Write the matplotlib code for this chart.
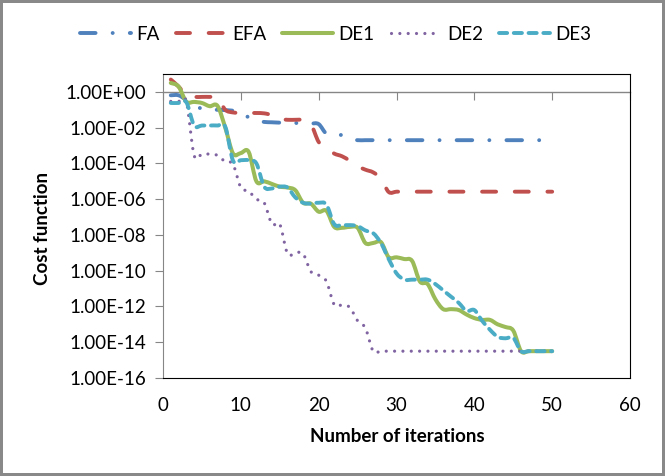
import numpy as np
import matplotlib
matplotlib.use("Agg")
import matplotlib.pyplot as plt
from matplotlib.path import Path
from matplotlib.patches import PathPatch
from matplotlib.lines import Line2D

plt.rcParams['font.family'] = ['Lato', 'DejaVu Sans']

# iteration number and log10 of the cost
iterations = np.arange(1, 51)

fa_log = [-0.19, -0.19, -0.45, -0.7, -0.95, -1.0, -1.0, -1.02, -1.05, -1.1,
          -1.43, -1.6, -1.68, -1.7, -1.72, -1.73, -1.74, -1.75, -1.77, -1.8,
          -2.35, -2.4, -2.42, -2.62, -2.7, -2.7, -2.7, -2.7, -2.7, -2.7,
          -2.7, -2.7, -2.7, -2.7, -2.7, -2.7, -2.7, -2.7, -2.7, -2.7,
          -2.7, -2.7, -2.7, -2.7, -2.7, -2.7, -2.7, -2.7, -2.7, -2.7]

efa_log = [0.69, 0.3, -0.2, -0.28, -0.28, -0.28, -0.32, -1.0, -1.15, -1.18,
           -1.18, -1.18, -1.2, -1.3, -1.5, -1.56, -1.56, -1.57, -1.8, -2.8,
           -3.15, -3.45, -3.6, -3.85, -4.15, -4.35, -4.5, -4.85, -5.6, -5.58,
           -5.58, -5.58, -5.58, -5.58, -5.58, -5.58, -5.58, -5.58, -5.58, -5.58,
           -5.58, -5.58, -5.58, -5.58, -5.58, -5.58, -5.58, -5.58, -5.58, -5.58]

de1_log = [0.5, 0.3, -0.55, -0.56, -0.62, -0.8, -0.78, -2.0, -3.45, -3.42,
           -3.35, -5.0, -5.0, -5.15, -5.3, -5.35, -5.5, -6.2, -6.25, -6.7,
           -6.65, -7.55, -7.6, -7.55, -7.6, -8.45, -8.45, -8.4, -9.25, -9.25,
           -9.35, -9.45, -10.6, -10.75, -11.6, -12.15, -12.15, -12.2, -12.45, -12.65,
           -12.75, -12.75, -13.0, -13.15, -13.35, -14.5, -14.5, -14.5, -14.5, -14.5]

de2_log = [-0.53, -0.53, -0.55, -3.55, -3.48, -3.48, -3.55, -3.9, -4.05, -5.35,
           -5.55, -6.0, -6.2, -7.4, -7.4, -9.05, -9.0, -9.05, -10.05, -10.25,
           -10.6, -11.9, -11.92, -12.05, -12.8, -13.2, -14.5, -14.5, -14.5, -14.5,
           -14.5, -14.5, -14.5, -14.5, -14.5, -14.5, -14.5, -14.5, -14.5, -14.5,
           -14.5, -14.5, -14.5, -14.5, -14.5, -14.5, -14.5, -14.5, -14.5, -14.5]

de3_log = [-0.62, -0.62, -0.58, -1.88, -1.88, -1.88, -1.88, -1.95, -3.85, -3.82,
           -3.82, -4.0, -5.3, -5.4, -5.3, -5.35, -5.9, -6.2, -6.25, -6.2,
           -6.3, -7.4, -7.45, -7.45, -7.5, -7.75, -7.9, -8.45, -9.35, -10.15,
           -10.5, -10.5, -10.5, -10.5, -10.75, -11.1, -11.45, -11.8, -12.25, -12.2,
           -12.8, -13.3, -13.7, -13.78, -13.75, -14.5, -14.5, -14.5, -14.5, -14.5]

names = ['FA', 'EFA', 'DE1', 'DE2', 'DE3']
colors = ['#4F81BD', '#C0504D', '#9BBB59', '#8064A2', '#4BACC6']
styles = [(0, (4.0, 4.4, 0.01, 4.4)), (0, (3.6, 4.8)), '-', (0, (0.01, 2.6)), (0, (2.1, 1.7))]
widths = [2.8, 2.8, 2.9, 2.3, 2.8]
FS = 13.5


def smooth_path(x, ylog):
    # Excel-like smoothed line: bezier segments through the points (in log space)
    pts = np.column_stack([x, ylog]).astype(float)
    n = len(pts)
    verts = [pts[0]]
    codes = [Path.MOVETO]
    for i in range(n - 1):
        p0 = pts[max(i - 1, 0)]
        p1 = pts[i]
        p2 = pts[i + 1]
        p3 = pts[min(i + 2, n - 1)]
        verts += [p1 + (p2 - p0) / 6, p2 - (p3 - p1) / 6, p2]
        codes += [Path.CURVE4] * 3
    verts = np.array(verts)
    verts[:, 1] = 10 ** verts[:, 1]
    return Path(verts, codes)


fig = plt.figure(figsize=(6.65, 4.76), dpi=100)
fig.patch.set_edgecolor('#898989')
fig.patch.set_linewidth(3)
ax = fig.add_axes([0.2451, 0.2059, 0.7023, 0.6386])
ax.set_yscale('log')
ax.set_xlim(0, 60)
ax.set_ylim(1e-16, 1e1)

series = [fa_log, efa_log, de1_log, de2_log, de3_log]
handles = []
for vals, name, c, ls, lw in zip(series, names, colors, styles, widths):
    patch = PathPatch(smooth_path(iterations, vals), transform=ax.transData,
                      fill=False, edgecolor=c, linewidth=lw, linestyle=ls,
                      capstyle='round', joinstyle='round')
    ax.add_patch(patch)
    handles.append(Line2D([], [], color=c, lw=lw, linestyle=ls,
                          dash_capstyle='round', solid_capstyle='round'))

yticks = 10.0 ** np.arange(-16, 1, 2)
ax.set_yticks(yticks)
ax.set_yticklabels([f"{v:.2E}" for v in yticks])
ax.minorticks_off()
ax.tick_params(axis='y', direction='out', length=6, color='#868686',
               labelsize=FS, pad=6)
ax.set_xticks(np.arange(0, 61, 10))
ax.tick_params(axis='x', length=0, labelsize=FS, pad=14)

for s in ['top', 'right', 'bottom']:
    ax.spines[s].set_color('black')
    ax.spines[s].set_linewidth(0.8)
ax.spines['left'].set_color('#868686')

# horizontal axis line crossing at 1.00E+00
sec = ax.secondary_xaxis(1, transform=ax.transData)
sec.set_xticks(np.arange(0, 61, 10))
sec.tick_params(direction='in', length=6, color='#868686',
                labeltop=False, labelbottom=False)
for s in ['top', 'bottom']:
    sec.spines[s].set_color('#868686')
    sec.spines[s].set_linewidth(1.0)

ax.set_xlabel('Number of iterations', fontsize=FS, fontweight='bold', va='center')
ax.xaxis.set_label_coords(0.501, -0.194)
ax.set_ylabel('Cost function', fontsize=FS, fontweight='bold', va='center')
ax.yaxis.set_label_coords(-0.259, 0.493)

fig.legend(handles, names, loc='center', bbox_to_anchor=(0.505, 1 - 34 / 476),
           ncol=5, frameon=False, fontsize=FS, handlelength=2.7,
           handletextpad=0.3, columnspacing=0.85)

fig.savefig('out.png', dpi=100)
